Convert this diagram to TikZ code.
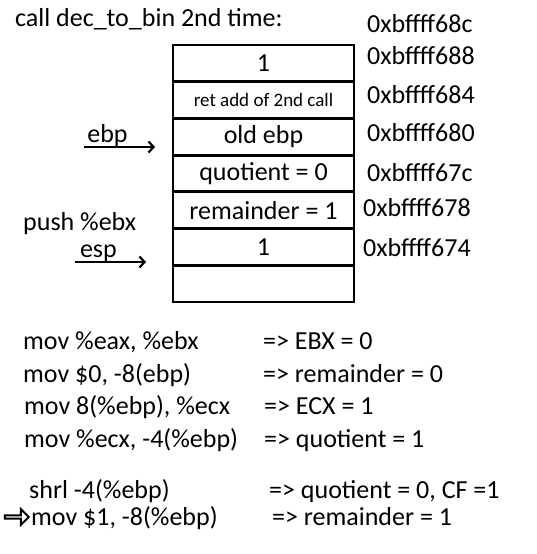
\documentclass[tikz,border=0pt]{standalone}
\usepackage{fontspec}
\setmainfont{Carlito}
\usetikzlibrary{arrows.meta, shapes.arrows, positioning}
\tikzset{
    bigFont/.style={font=\fontsize{26}{30}\selectfont},
    stackCell/.style={rectangle, draw, line width=2.8pt, minimum width=181pt, minimum height=36.7pt, inner sep=0pt, outer sep=0pt, bigFont},
    addrLabel/.style={anchor=base west, inner sep=0pt, bigFont},
    codeText/.style={anchor=base west, inner sep=0pt, bigFont},
    ptrArrow/.style={-{Straight Barb[length=5pt, width=11pt, line width=2.2pt]}, line width=2.2pt},
}
\newcommand{\drawPtr}[3]{
    \draw[ptrArrow] (#1) -- node[pos=0.33, anchor=base, yshift=5pt, inner sep=0pt, bigFont] {#3} (#2);
}

\begin{document}
\begin{tikzpicture}[x=1pt, y=-1pt]
    \useasboundingbox (0,0) rectangle (536,554);

    \node[codeText] (title) at (15,27) {call dec\_to\_bin 2nd time:};

    % the stack
    \node[stackCell, text depth=0pt] (cellArg) at (263.5,63.4) {1};
    \node[stackCell, below=0pt of cellArg, font=\fontsize{19}{22}\selectfont] (cellRet) {ret add of 2nd call};
    \node[stackCell, below=0pt of cellRet] (cellOldEbp) {old ebp};
    \node[stackCell, below=0pt of cellOldEbp] (cellQuot) {quotient = 0};
    \node[stackCell, below=0pt of cellQuot] (cellRem) {remainder = 1};
    \node[stackCell, below=0pt of cellRem] (cellPush) {1};
    \node[stackCell, below=0pt of cellPush] (cellFree) {};

    % addresses
    \node[addrLabel] (addr68c) at (367,32) {0xbffff68c};
    \node[addrLabel] (addr688) at (367,64) {0xbffff688};
    \node[addrLabel] (addr684) at (367,103) {0xbffff684};
    \node[addrLabel] (addr680) at (367,141) {0xbffff680};
    \node[addrLabel] (addr67c) at (367,181) {0xbffff67c};
    \node[addrLabel] (addr678) at (363,216) {0xbffff678};
    \node[addrLabel] (addr674) at (363,256) {0xbffff674};

    % pointers
    \coordinate (ebpTail) at (84,147);
    \coordinate (ebpHead) at (155,147);
    \drawPtr{ebpTail}{ebpHead}{ebp}
    \node[codeText] (pushLine) at (23,230) {push \%ebx};
    \coordinate (espTail) at (75,262);
    \coordinate (espHead) at (146,262);
    \drawPtr{espTail}{espHead}{esp}

    % instructions
    \node[codeText] (ins1) at (23,349) {mov \%eax, \%ebx};
    \node[codeText] (ins2) at (23,382) {mov \$0, -8(ebp)};
    \node[codeText] (ins3) at (24,414) {mov 8(\%ebp), \%ecx};
    \node[codeText] (ins4) at (24,447) {mov \%ecx, -4(\%ebp)};
    \node[codeText] (ins5) at (29,498) {shrl -4(\%ebp)};
    \node[codeText] (ins6) at (31,525) {mov \$1, -8(\%ebp)};

    \node[codeText] (res1) at (263,349) {=> EBX = 0};
    \node[codeText] (res2) at (263,382) {=> remainder = 0};
    \node[codeText] (res3) at (264,414) {=> ECX = 1};
    \node[codeText] (res4) at (264,447) {=> quotient = 1};
    \node[codeText] (res5) at (269,498) {=> quotient = 0, CF =1};
    \node[codeText] (res6) at (272,525) {=> remainder = 1};

    % current instruction
    \node[single arrow, draw, fill=white, line width=2pt, inner sep=0pt, text height=0pt, text depth=0pt, minimum height=24pt, minimum width=16pt, single arrow head extend=4pt] (curIns) at (16,517) {};

\end{tikzpicture}
\end{document}
